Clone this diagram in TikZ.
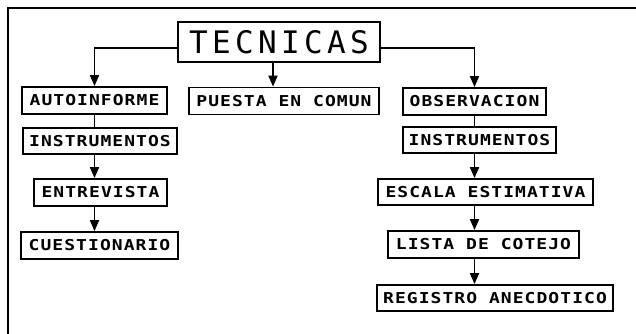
\documentclass[tikz,border=0pt]{standalone}
\usepackage{fontspec}
\usetikzlibrary{arrows.meta}
\newfontfamily\boxfont{DejaVu Sans Mono}[FakeStretch=1.2, LetterSpace=7]
\newfontfamily\titlefont{DejaVu Sans Mono}[LetterSpace=14]
\tikzset{
  box/.style={draw=black, line width=1.8pt, inner sep=0pt, minimum height=27pt,
    font=\boxfont\bfseries\fontsize{15}{15}\selectfont},
  titlebox/.style={draw=black, line width=1.8pt, inner sep=0pt, minimum width=202pt, minimum height=40pt,
    font=\titlefont\fontsize{31}{31}\selectfont},
  link/.style={line width=1.8pt},
  arr/.style={line width=1.8pt, -{Triangle[length=11pt,width=9pt]}},
  frame/.style={line width=2.2pt}
}
\begin{document}
\begin{tikzpicture}[x=1pt,y=-1pt]
\useasboundingbox (0,0) rectangle (636,334);
\draw[frame] (636,8) -- (8,8) -- (8,334);
\node[titlebox] (tec) at (279,42) {TECNICAS};
\node[box, minimum width=145pt] (au) at (94.5,100.5) {AUTOINFORME};
\node[box, minimum width=190pt] (pu) at (284,101) {PUESTA EN COMUN};
\node[box, minimum width=143pt] (obs) at (474.5,101.5) {OBSERVACION};
\node[box, minimum width=154pt, minimum height=26pt] (il) at (100,141) {INSTRUMENTOS};
\node[box, minimum width=153pt, minimum height=26pt] (ir) at (479.5,140) {INSTRUMENTOS};
\node[box, minimum width=133pt] (ent) at (100.5,192.5) {ENTREVISTA};
\node[box, minimum width=157pt] (cue) at (99.5,245.5) {CUESTIONARIO};
\node[box, minimum width=215pt, minimum height=26pt] (esc) at (485.5,192) {ESCALA ESTIMATIVA};
\node[box, minimum width=191pt] (lis) at (483.5,244.5) {LISTA DE COTEJO};
\node[box, minimum width=236pt, minimum height=26pt] (reg) at (495,298) {REGISTRO ANECDOTICO};
% connectors
\draw[arr] ([yshift=-6pt]tec.west) -| (au.north);
\draw[arr] ([yshift=-6pt]tec.east) -| (obs.north);
\draw[arr] ([xshift=-6pt]tec.south) -- ([xshift=-6pt]tec.south |- pu.north);
\draw[link] (au.south) -- (au.south |- il.north);
\draw[arr] (au.south |- il.south) -- (au.south |- ent.north);
\draw[arr] (au.south |- ent.south) -- (au.south |- cue.north);
\draw[link] (obs.south) -- (obs.south |- ir.north);
\draw[arr] (obs.south |- ir.south) -- (obs.south |- esc.north);
\draw[arr] (obs.south |- esc.south) -- (obs.south |- lis.north);
\draw[arr] (obs.south |- lis.south) -- (obs.south |- reg.north);
\end{tikzpicture}
\end{document}
